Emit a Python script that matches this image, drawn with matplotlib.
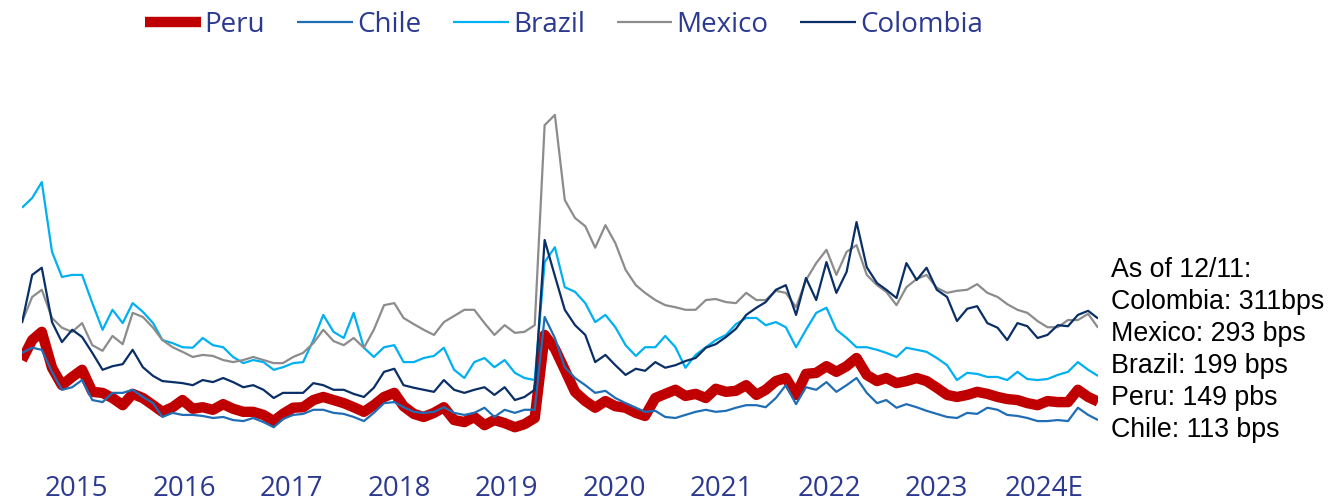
import numpy as np
import pandas as pd
import matplotlib
matplotlib.use("Agg")
import matplotlib.pyplot as plt
import matplotlib.dates as mdates

# Sovereign spreads (bps), month-end observations
dates = pd.date_range("2015-12-31", periods=108, freq="ME")

peru = [230, 269, 285, 215, 181, 197, 211, 168, 166, 156,
        142, 164, 156, 142, 129, 138, 152, 135, 138, 133,
        144, 135, 129, 129, 123, 111, 125, 137, 138, 152,
        158, 152, 146, 138, 129, 142, 158, 166, 140, 125,
        119, 127, 138, 113, 109, 119, 103, 113, 107, 99,
        105, 117, 279, 252, 211, 168, 150, 137, 150, 140,
        137, 127, 121, 156, 164, 172, 160, 164, 156, 174,
        168, 170, 181, 162, 172, 189, 195, 162, 203, 205,
        218, 207, 218, 234, 201, 189, 195, 185, 189, 195,
        189, 176, 162, 158, 162, 168, 164, 158, 154, 152,
        146, 142, 150, 148, 148, 172, 158, 149]

chile = [244, 254, 250, 207, 172, 177, 191, 152, 148, 166,
         166, 172, 158, 146, 119, 127, 123, 123, 121, 117,
         119, 113, 111, 117, 109, 99, 115, 123, 125, 133,
         133, 127, 125, 119, 111, 127, 146, 148, 138, 129,
         127, 129, 138, 127, 123, 127, 137, 119, 133, 127,
         133, 133, 314, 273, 216, 195, 181, 166, 170, 156,
         146, 137, 129, 131, 119, 117, 123, 129, 133, 129,
         131, 137, 142, 142, 138, 156, 181, 144, 177, 172,
         187, 168, 181, 195, 166, 146, 152, 137, 144, 138,
         131, 125, 119, 117, 127, 125, 137, 133, 123, 121,
         117, 111, 111, 113, 111, 137, 123, 113]

brazil = [527, 546, 577, 441, 392, 396, 396, 341, 289, 328,
          302, 341, 324, 302, 269, 263, 255, 254, 273, 259,
          255, 236, 224, 230, 226, 211, 216, 224, 226, 269,
          318, 285, 273, 322, 254, 236, 255, 259, 226, 226,
          234, 238, 254, 211, 195, 226, 234, 216, 230, 205,
          195, 191, 421, 450, 372, 363, 341, 304, 318, 294,
          259, 238, 255, 255, 277, 255, 215, 240, 255, 269,
          279, 300, 312, 312, 298, 304, 294, 255, 289, 322,
          332, 289, 273, 255, 255, 250, 244, 236, 254, 250,
          246, 234, 220, 191, 205, 203, 197, 197, 191, 207,
          193, 191, 193, 201, 207, 226, 211, 199]

mexico = [304, 353, 367, 312, 293, 285, 302, 259, 248, 277,
          261, 322, 314, 293, 269, 255, 246, 236, 240, 238,
          230, 226, 230, 236, 230, 224, 224, 236, 244, 263,
          289, 267, 259, 273, 254, 289, 337, 341, 312, 300,
          289, 279, 304, 316, 328, 328, 302, 279, 298, 283,
          285, 298, 688, 708, 542, 507, 491, 449, 493, 458,
          406, 376, 361, 347, 337, 333, 328, 328, 347, 349,
          343, 341, 361, 347, 347, 365, 361, 333, 386, 419,
          445, 396, 441, 454, 396, 376, 363, 337, 372, 388,
          396, 371, 361, 365, 367, 378, 361, 353, 339, 328,
          322, 306, 294, 294, 308, 308, 320, 293]

colombia = [302, 396, 410, 304, 265, 289, 275, 244, 211, 218,
            222, 250, 216, 199, 189, 187, 185, 181, 191, 187,
            195, 187, 177, 181, 172, 156, 166, 166, 166, 185,
            181, 172, 172, 164, 158, 176, 207, 213, 181, 176,
            172, 168, 191, 172, 166, 172, 177, 162, 177, 152,
            158, 172, 464, 394, 328, 298, 279, 226, 240, 220,
            201, 213, 209, 226, 215, 220, 228, 234, 254, 261,
            275, 291, 318, 332, 343, 367, 376, 318, 390, 347,
            421, 361, 402, 499, 411, 380, 367, 351, 419, 386,
            410, 367, 353, 306, 330, 335, 302, 293, 269, 302,
            296, 273, 279, 298, 296, 318, 326, 311]

year_labels = ["2015", "2016", "2017", "2018", "2019",
               "2020", "2021", "2022", "2023", "2024E"]

note = ("As of 12/11:\nColombia: 311bps\nMexico: 293 bps\n"
        "Brazil: 199 bps\nPeru: 149 pbs\nChile: 113 bps")

series = [
    ("Peru", peru, "#C00000", 7.5),
    ("Chile", chile, "#1F6EB5", 1.6),
    ("Brazil", brazil, "#00B0F0", 1.6),
    ("Mexico", mexico, "#8C8C8C", 1.6),
    ("Colombia", colombia, "#0A2F66", 1.6),
]

label_color = "#2B3990"

fig = plt.figure(figsize=(13.3, 5.01), dpi=100)
ax = fig.add_axes([0.0165, 0.0459, 0.8091, 0.8343])

for i, (name, vals, color, lw) in enumerate(series):
    ax.plot(dates, vals, color=color, lw=lw, label=name, zorder=2 + i,
            solid_joinstyle="round", solid_capstyle="butt")

ax.set_ylim(0, 815)
x0, x1 = mdates.date2num(dates[0]), mdates.date2num(dates[-1])
ax.set_xlim(x0, x1)

# Year labels sit evenly along the bottom edge
frac = np.linspace(0.051, 0.950, len(year_labels))
ax.set_xticks(x0 + (x1 - x0) * frac)
ax.set_xticklabels(year_labels, fontsize=20, color=label_color,
                   family="Open Sans")
ax.tick_params(axis="x", length=0, pad=-2)
ax.set_yticks([])
for s in ax.spines.values():
    s.set_visible(False)

leg = fig.legend(loc="center", bbox_to_anchor=(564 / 1330, 1 - 25 / 501),
                 ncol=5, frameon=False, handlelength=2.0, handletextpad=0.15,
                 columnspacing=1.15, prop={"family": "Open Sans", "size": 20})
for t in leg.get_texts():
    t.set_color(label_color)

fig.text(1111 / 1330, 1 - 257 / 501, note, ha="left", va="top",
         fontsize=19.3, family="Liberation Sans", color="black",
         linespacing=1.30)

fig.savefig("out.png", dpi=100)
